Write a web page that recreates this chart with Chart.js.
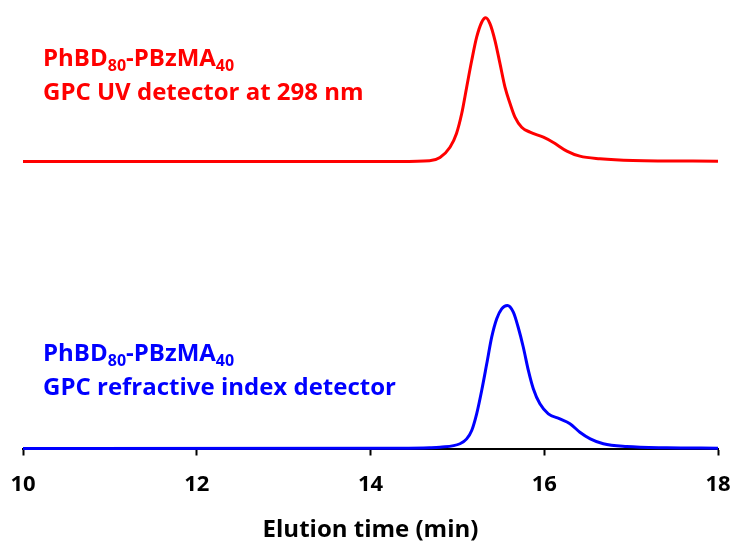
<!DOCTYPE html>
<html>
<head>
<meta charset="utf-8">
<script src="https://cdn.jsdelivr.net/npm/chart.js@4/dist/chart.umd.min.js"></script>
<style>
  html, body { margin: 0; padding: 0; background: #fff; }
  #wrap { width: 733px; height: 545px; position: relative; }
</style>
</head>
<body>
<div id="wrap"><canvas id="c" width="733" height="545"></canvas></div>
<script>
// Elution time (min) and detector signal (normalised; UV trace offset by +2)
const uvTime  = [10.0, 14.34, 14.68, 14.80, 14.915, 14.99, 15.05, 15.107, 15.165, 15.222, 15.28, 15.326, 15.376, 15.433, 15.49, 15.548, 15.606, 15.663, 15.74, 15.836, 15.99, 16.10, 16.26, 16.41, 16.64, 17.02, 18.0];
const uvSignal = [1.993, 1.993, 1.998, 2.021, 2.092, 2.188, 2.326, 2.509, 2.694, 2.856, 2.960, 2.991, 2.949, 2.833, 2.674, 2.509, 2.396, 2.301, 2.231, 2.197, 2.162, 2.127, 2.065, 2.030, 2.012, 2.000, 1.995];

const riTime  = [10.0, 14.34, 14.68, 14.80, 15.03, 15.107, 15.165, 15.222, 15.28, 15.338, 15.395, 15.453, 15.51, 15.575, 15.644, 15.70, 15.759, 15.817, 15.874, 15.95, 16.047, 16.18, 16.296, 16.41, 16.53, 16.68, 16.95, 17.41, 18.0];
const riSignal = [0.0, 0.002, 0.005, 0.009, 0.033, 0.067, 0.125, 0.241, 0.403, 0.588, 0.773, 0.901, 0.970, 0.993, 0.947, 0.842, 0.703, 0.542, 0.415, 0.310, 0.241, 0.206, 0.172, 0.113, 0.067, 0.033, 0.014, 0.005, 0.002];

const xTicks = [10, 12, 14, 16, 18];
const xTitle = 'Elution time (min)';
const uvLabel = [['PhBD', '80', '-PBzMA', '40'], 'GPC UV detector at 298 nm'];
const riLabel = [['PhBD', '80', '-PBzMA', '40'], 'GPC refractive index detector'];

const toPts = (xs, ys) => xs.map((x, i) => ({x: x, y: ys[i]}));

const FONT = '"Open Sans", "Noto Sans", sans-serif';

const labelPlugin = {
  id: 'labels',
  afterDraw(chart) {
    const ctx = chart.ctx;
    function drawBlock(lines, color, x, y1, y2) {
      ctx.save();
      ctx.fillStyle = color;
      ctx.textBaseline = 'alphabetic';
      ctx.textAlign = 'left';
      let cx = x;
      lines[0].forEach((part, i) => {
        const sub = i % 2 === 1;
        ctx.font = 'bold ' + (sub ? 16 : 24) + 'px ' + FONT;
        ctx.fillText(part, cx, sub ? y1 + 5 : y1);
        cx += ctx.measureText(part).width;
      });
      ctx.font = 'bold 24px ' + FONT;
      ctx.fillText(lines[1], x, y2);
      ctx.restore();
    }
    drawBlock(uvLabel, '#ff0000', 43, 66, 100);
    drawBlock(riLabel, '#0000ff', 43, 361, 395);
  }
};

new Chart(document.getElementById('c'), {
  type: 'scatter',
  data: {
    datasets: [
      { data: toPts(uvTime, uvSignal), showLine: true, borderColor: '#ff0000', borderWidth: 3,
        pointRadius: 0, cubicInterpolationMode: 'monotone', clip: false },
      { data: toPts(riTime, riSignal), showLine: true, borderColor: '#0000ff', borderWidth: 3,
        pointRadius: 0, cubicInterpolationMode: 'monotone', clip: false }
    ]
  },
  options: {
    responsive: false,
    animation: false,
    devicePixelRatio: 1,
    layout: { padding: { left: 23, right: 15, top: 10, bottom: 0 } },
    plugins: { legend: { display: false }, tooltip: { enabled: false } },
    scales: {
      x: {
        type: 'linear', min: 10, max: 18,
        afterBuildTicks(scale) { scale.ticks = xTicks.map(v => ({value: v})); },
        afterFit(scale) { scale.height = 96.5; scale.paddingLeft = 0; scale.paddingRight = 0; },
        ticks: { color: '#000', font: { family: FONT, size: 22, weight: 'bold' }, padding: 16, maxRotation: 0 },
        grid: { drawOnChartArea: false, drawTicks: true, tickLength: 7, tickWidth: 2, tickColor: '#000' },
        border: { display: true, color: '#000', width: 2 },
        title: { display: true, text: xTitle, color: '#000', font: { family: FONT, size: 24, weight: 'bold' },
                 padding: { top: 0, bottom: 0 } }
      },
      y: { display: false, min: 0, max: 3.045 }
    }
  },
  plugins: [labelPlugin]
});
</script>
</body>
</html>
